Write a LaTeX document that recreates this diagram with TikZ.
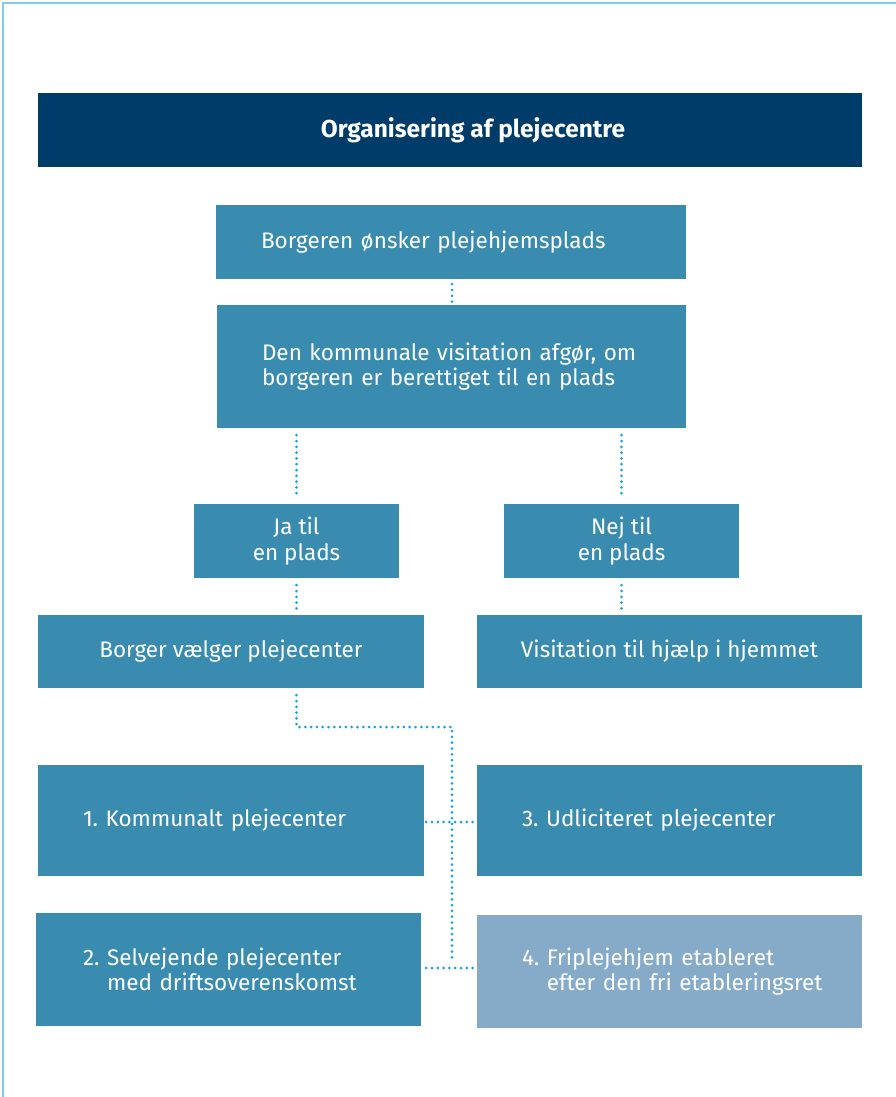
\documentclass[tikz,border=0pt]{standalone}
\usepackage{fontspec}
\setmainfont{Fira Sans}
\usetikzlibrary{calc}
\frenchspacing

\definecolor{titleblue}{HTML}{003C69}
\definecolor{boxblue}{HTML}{3A8BB0}
\definecolor{paleblue}{HTML}{85ABC9}
\definecolor{dotblue}{HTML}{18A2E2}
\definecolor{frameblue}{HTML}{7FCCEC}

\tikzset{
  box/.style={fill=boxblue, text=white, inner sep=0pt, font=\fontsize{22.5}{25.5}\selectfont},
  leftbox/.style={box, align=left, inner xsep=45pt},
  link/.style={dotblue, line width=3pt, line cap=round, dash pattern=on 0pt off 5.8pt},
}

\begin{document}
\begin{tikzpicture}[x=1pt, y=-1pt]
    \useasboundingbox (0,0) rectangle (896,1097);
    \draw[frameblue, line width=1.5pt] (3,1097) -- (3,3) -- (896,3);

    % title bar
    \node[fill=titleblue, text=white, minimum width=824pt, minimum height=74pt, font=\bfseries\fontsize{24.5}{28}\selectfont]
        (title) at (450,130) {\hspace*{46pt}Organisering af plejecentre};

    % decision steps
    \node[leftbox, text width=380pt, minimum height=74pt] (wish) at (451,242) {Borgeren ønsker plejehjemsplads};
    \node[leftbox, text width=379pt, minimum height=123pt] (visit) at (451.5,366.5)
        {Den kommunale visitation afgør, om\\borgeren er berettiget til en plads};

    \node[box, align=center, minimum width=205pt, minimum height=74pt] (ja) at (296.5,541) {Ja til\\en plads};
    \node[box, align=center, minimum width=235pt, minimum height=74pt] (nej) at (621.5,541) {Nej til\\en plads};

    \node[box, minimum width=386pt, minimum height=73pt] (choose) at (231,651.5) {Borger vælger plejecenter};
    \node[box, minimum width=385pt, minimum height=73pt] (home) at (669.5,651.5) {Visitation til hjælp i hjemmet};

    % the four kinds of plejecentre
    \node[leftbox, text width=296pt, minimum height=111pt] (k1) at (231,820.5) {1. Kommunalt plejecenter};
    \node[leftbox, text width=295pt, minimum height=111pt] (k3) at (669.5,820.5) {3. Udliciteret plejecenter};
    \node[leftbox, inner xsep=47pt, text width=291pt, minimum height=113pt] (k2) at (228.5,969.5)
        {2. Selvejende plejecenter\\\phantom{2.\ }med driftsoverenskomst};
    \node[leftbox, fill=paleblue, text width=295pt, minimum height=113pt] (k4) at (669.5,971.5)
        {4. Friplejehjem etableret\\\mbox{\phantom{4.\ }efter den fri etableringsret}};

    \coordinate (bend) at (452,727);
    \coordinate (foot) at (452,962);

    % dotted connectors
    \draw[link, shorten <=5pt, shorten >=3pt] (wish.south -| 452,0) -- (visit.north -| 452,0);
    \draw[link, shorten <=7pt, shorten >=7pt] (visit.south -| ja) -- (ja.north);
    \draw[link, shorten <=7pt, shorten >=7pt] (visit.south -| nej) -- (nej.north);
    \draw[link, shorten <=7pt, shorten >=5pt] (ja.south) -- (choose.north -| ja);
    \draw[link, shorten <=7pt, shorten >=5pt] (nej.south) -- (home.north -| nej);
    \draw[link, shorten <=7pt] (choose.south -| ja) |- (bend) -- (foot);
    \draw[link, shorten <=2pt, shorten >=4pt] ([yshift=-1.5pt]k1.east) -- ([yshift=-1.5pt]k1.east -| k3.west);
    \draw[link, shorten <=5pt, shorten >=4pt] ([yshift=1.5pt]k2.east) -- ([yshift=1.5pt]k2.east -| k4.west);
\end{tikzpicture}
\end{document}
